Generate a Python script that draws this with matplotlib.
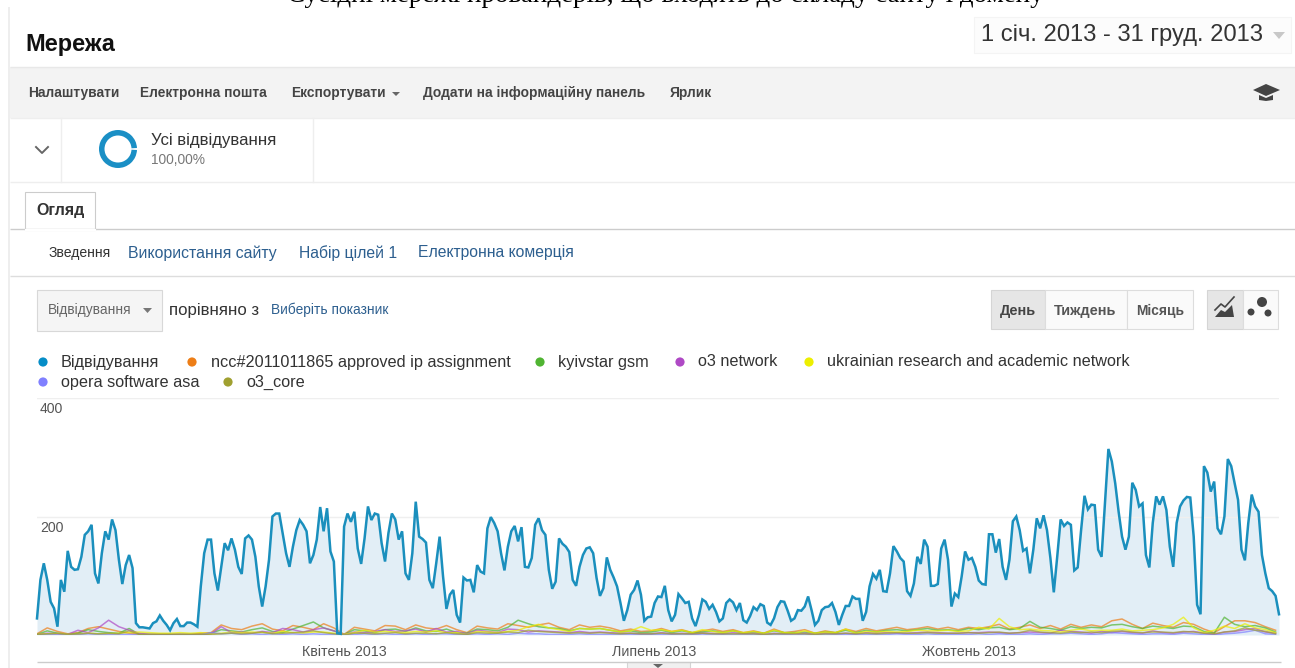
import numpy as np
import matplotlib
matplotlib.use("Agg")
import matplotlib.pyplot as plt
from matplotlib.patches import Rectangle, Circle, Polygon, Wedge

plt.rcParams['font.family'] = ['Liberation Sans', 'DejaVu Sans']

# ---------- data ----------
visits = [
 28,93,121,93,56,45,14,93,73,142,115,110,111,132,169,175,186,104,87,138,175,161,195,177,127,86,118,135,113,20,
 13,13,12,11,20,23,33,24,17,8,20,27,15,15,21,21,18,14,82,138,161,161,104,75,115,155,143,163,144,115,
 103,163,168,161,132,82,48,82,127,200,205,205,172,138,115,149,177,194,186,175,121,135,161,216,175,214,141,124,3,2,
 183,205,191,208,146,120,163,217,194,205,203,155,124,172,205,195,161,175,104,93,138,225,166,162,156,93,79,121,166,99,
 44,68,76,34,21,97,92,93,72,118,107,104,180,199,189,175,138,109,149,175,184,158,182,115,114,130,186,197,177,169,
 110,78,90,163,154,149,140,93,83,115,135,146,148,138,96,66,79,131,110,97,82,54,24,42,68,76,92,68,24,30,
 31,54,65,64,83,42,23,34,69,62,54,56,28,15,34,60,56,44,51,39,23,28,54,60,55,42,54,25,21,32,
 47,42,52,49,21,17,28,47,57,56,41,24,28,42,41,48,65,42,17,24,42,47,48,54,39,17,34,49,49,65,
 61,61,24,39,82,103,95,110,74,73,104,150,141,130,124,74,66,87,132,120,161,149,83,83,86,146,161,127,48,70,
 64,99,141,127,130,115,92,86,85,170,170,139,162,115,93,127,192,200,177,142,146,104,144,197,180,202,177,130,72,132,
 195,184,190,186,109,114,177,235,212,220,219,144,132,222,314,293,256,208,166,144,166,257,245,217,222,135,114,189,234,220,
 234,211,149,115,189,217,227,233,232,166,51,35,285,274,242,259,180,170,200,297,285,256,228,144,126,189,237,217,208,135,
 104,79,74,66,35]

# the smaller series are read every third day
ncc = [2,12,6,2,4,11,14,10,6,3, 1,1,1,1,1,1,3,4,17,11, 9,15,19,10,7,16,13,9,19,12,
 1,13,10,7,16,15,9,17,12,10, 16,9,4,15,12,10,19,16,13,17, 20,13,9,17,13,15,12,7,10,6,
 7,11,6,9,4,7,10,6,9,4, 7,3,10,4,6,9,3,7,4,10, 6,11,7,10,13,9,11,14,10,13,
 9,13,11,14,18,10,13,17,11,16, 10,18,13,17,14,24,27,18,11,20, 16,13,21,18,10,4,14,24,24,21, 14,8]
kyivstar = [1,7,3,1,3,9,6,4,3,11, 1,1,1,1,1,1,1,3,9,7, 5,9,12,6,4,10,16,22,12,7,
 1,9,7,4,9,10,6,12,7,6, 10,4,3,10,9,7,13,25,19,14, 12,11,7,11,10,11,8,5,7,4,
 5,8,4,7,4,5,7,4,7,3, 5,3,7,4,4,5,3,5,4,8, 4,8,5,8,9,7,9,11,8,9,
 7,11,9,12,13,9,11,23,13,11, 8,14,11,13,12,17,18,14,11,15, 13,11,15,14,6,3,30,18,14,16, 12,5]
o3_network = [1,3,2,1,8,4,12,25,14,8, 3,1,1,1,1,1,1,2,14,4, 5,3,6,4,11,9,5,9,12,7,
 1,5,4,6,9,6,7,10,5,11, 5,6,2,8,6,4,10,9,5,7, 6,5,4,6,4,5,4,3,3,2,
 2,4,2,3,2,3,3,2,4,2, 3,1,3,2,2,3,1,3,2,3, 2,4,3,4,3,3,4,5,4,3,
 3,4,4,5,4,3,4,5,4,3, 8,6,5,3,6,4,6,4,3,7, 4,3,5,6,3,1,5,6,9,11, 5,3]
uran = [1,2,2,1,1,3,2,2,3,4, 5,4,3,3,4,3,4,2,3,5, 4,5,4,3,6,4,3,5,5,3,
 1,4,8,5,6,5,4,6,5,7, 4,4,1,6,5,4,6,8,14,18, 12,9,6,11,10,11,8,5,7,14,
 8,9,6,8,4,9,6,4,7,4, 6,3,8,4,3,7,3,5,4,10, 3,6,5,6,5,6,8,7,7,8,
 6,7,13,10,28,14,9,10,8,7, 5,8,10,7,8,8,10,7,8,9, 12,18,30,12,4,8,15,11,19,12, 9,4]
opera = [0,1,1,0,1,2,1,1,1,1, 0,0,0,0,0,0,0,4,2,3, 1,2,1,2,1,2,1,2,1,1,
 0,1,2,1,2,1,1,2,1,2, 2,1,1,2,1,2,1,3,2,2, 1,1,1,2,1,1,1,1,1,1,
 1,1,1,1,1,0,1,1,1,0, 1,0,1,1,0,1,0,1,1,1, 1,1,1,1,2,1,1,2,1,1,
 1,1,2,1,2,1,1,2,1,2, 2,3,2,1,2,4,3,2,1,2, 2,1,3,2,1,0,2,3,5,8, 2,1]
o3_core = [1,2,3,1,2,3,2,3,2,7, 1,1,1,1,1,1,1,1,2,3, 2,3,5,2,3,4,5,7,4,2,
 0,3,3,2,3,4,2,3,3,2, 4,2,1,4,3,3,5,4,8,6, 5,4,3,4,3,4,3,2,3,2,
 2,3,2,2,2,3,2,2,2,2, 2,1,2,2,2,2,1,2,2,3, 2,3,2,3,4,3,3,4,3,3,
 3,4,3,4,5,3,4,8,5,4, 3,5,4,5,4,6,7,5,4,5, 5,4,6,5,3,2,5,7,12,8, 6,2]

series_names = ['ncc#2011011865 approved ip assignment', 'kyivstar gsm', 'o3 network',
                'ukrainian research and academic network', 'opera software asa', 'o3_core']
series_values = [ncc, kyivstar, o3_network, uran, opera, o3_core]
series_colors = ['#ed7e17', '#50b432', '#af49c5', '#edef00', '#8080ff', '#a0a030']
y_ticks = [200, 400]
month_days = [90, 181, 273]
month_labels = ['Квітень 2013', 'Липень 2013', 'Жовтень 2013']

# ---------- figure & page layer in pixel coordinates ----------
W, H = 1295, 668
fig = plt.figure(figsize=(W / 100, H / 100), dpi=100, facecolor='white')
pg = fig.add_axes([0, 0, 1, 1])
pg.set_xlim(0, W); pg.set_ylim(H, 0); pg.axis('off')

def px(s):
    return s * 0.72

def T(x, y, s, size=13, color='#333333', ha='left', weight='normal', family=None):
    kw = {'family': family} if family else {}
    return pg.text(x, y, s, fontsize=px(size), color=color, ha=ha, va='center', weight=weight, **kw)

def R(x0, y0, x1, y1, fc='white', ec='none', lw=0.8, z=1):
    pg.add_patch(Rectangle((x0, y0), x1 - x0, y1 - y0, fc=fc, ec=ec, lw=lw, zorder=z))

def HL(y, x0=10, x1=W, c='#e2e2e2', lw=1):
    pg.plot([x0, x1], [y, y], color=c, lw=lw, solid_capstyle='butt')

# clipped line of document text above the screenshot
pg.text(665, 1.5, 'Сусідні мережі провайдерів, що входять до складу сайту і домену',
        fontsize=px(27), ha='center', va='baseline', family='Liberation Serif', color='black')
pg.plot([9, 9], [8, H], color='#eeeeee', lw=1.4)

# heading
T(25, 45, 'Мережа', size=23.5, color='#111111', weight='bold')
R(974, 17, 1291, 53, fc='#fcfcfc', ec='#f4f4f4')
T(981, 35, '1 січ. 2013 - 31 груд. 2013', size=23.7, color='#333333')
pg.add_patch(Polygon([[1273, 32], [1285, 32], [1279, 39]], fc='#c8c8c8'))

# toolbar
R(10, 67, W, 118, fc='#f3f3f3', ec='none')
HL(67, c='#e8e8e8'); HL(118, c='#eeeeee')
for x, s in [(28, 'Налаштувати'), (140, 'Електронна пошта'), (291, 'Експортувати'),
             (423, 'Додати на інформаційну панель'), (670, 'Ярлик')]:
    T(x, 93, s, size=13.8, color='#444444', weight='bold')
pg.add_patch(Polygon([[392, 92], [400, 92], [396, 96]], fc='#666666'))
pg.add_patch(Polygon([[1253, 90], [1266, 84], [1280, 90], [1266, 96]], fc='#444444'))
pg.add_patch(Polygon([[1259, 95], [1266, 98], [1273, 95], [1273, 100], [1266, 101], [1259, 100]], fc='#444444'))

# segment row
for x in (61, 313):
    pg.plot([x, x], [118, 182], color='#eeeeee', lw=1)
HL(182, c='#eeeeee')
pg.plot([36, 42, 48], [147, 153, 147], color='#666666', lw=1.4)
pg.add_patch(Wedge((118, 149), 19, 3, 357, width=5.5, fc='#1a8fc5', ec='none'))
T(151, 141, 'Усі відвідування', size=16.8, color='#333333')
T(151, 160, '100,00%', size=13.8, color='#777777')

# tabs
HL(229, c='#cccccc')
R(25, 192, 95, 230, fc='white', ec='#cccccc')
pg.plot([25.5, 94.5], [229.5, 229.5], color='white', lw=1.5)
T(60.5, 210, 'Огляд', size=16, color='#333333', ha='center', weight='bold')
T(49, 253, 'Зведення', size=14, color='#333333')
T(128, 253, 'Використання сайту', size=15.9, color='#2d5f8f')
T(299, 253, 'Набір цілей 1', size=15.8, color='#2d5f8f')
T(418, 253, 'Електронна комерція', size=15.8, color='#2d5f8f')
HL(276, c='#dddddd')

# metric picker
R(37, 290, 162, 331, fc='#f5f5f5', ec='#d8d8d8')
T(48, 310, 'Відвідування', size=13.8, color='#666666')
pg.add_patch(Polygon([[143, 308], [152, 308], [147.5, 313]], fc='#777777'))
T(169, 310, 'порівняно з', size=16.8, color='#333333')
T(271, 310, 'Виберіть показник', size=13.7, color='#2d5f8f')

# period buttons
R(991, 290, 1045, 329, fc='#e6e6e6', ec='#d5d5d5')
R(1045, 290, 1127, 329, fc='#fafafa', ec='#dddddd')
R(1127, 290, 1193, 329, fc='#fafafa', ec='#dddddd')
T(1018, 311, 'День', size=14.5, color='#444444', ha='center', weight='bold')
T(1085, 311, 'Тиждень', size=14.5, color='#555555', ha='center', weight='bold')
T(1160, 311, 'Місяць', size=13.8, color='#555555', ha='center', weight='bold')
R(1207, 290, 1243, 329, fc='#e6e6e6', ec='#d5d5d5')
R(1243, 290, 1278, 329, fc='#fafafa', ec='#dddddd')
pg.add_patch(Polygon([[1215, 317], [1221, 310], [1225, 312], [1232, 305], [1234, 317]], fc='#444444'))
pg.plot([1215, 1221, 1225, 1234], [310, 304, 307, 297], color='#444444', lw=1.2)
pg.add_patch(Circle((1262, 302), 5, fc='#444444'))
pg.add_patch(Circle((1251, 312), 3.5, fc='#444444'))
pg.add_patch(Circle((1268, 313), 3.5, fc='#444444'))

# legend rows
legend = [(43, 362, 61, 'Відвідування', '#058dc7'),
          (192, 362, 211, series_names[0], series_colors[0]),
          (540, 362, 558, series_names[1], series_colors[1]),
          (680, 362, 698, series_names[2], series_colors[2]),
          (809, 362, 827, series_names[3], series_colors[3]),
          (43, 382, 61, series_names[4], series_colors[4]),
          (228, 382, 246, series_names[5], series_colors[5])]
for dx, y, tx, s, c in legend:
    pg.add_patch(Circle((dx, y), 4.6, fc=c, ec='none'))
    T(tx, y, s, size=16.2, color='#333333')

# bottom rule and handle
HL(662, x0=37, x1=1281, c='#cccccc')
R(627, 662, 690, 669, fc='#f0f0f0', ec='#d5d5d5')
pg.add_patch(Polygon([[653, 664], [663, 664], [658, 668]], fc='#666666'))

# ---------- chart ----------
ax = fig.add_axes([37 / W, 1 - 635 / H, (1279 - 37) / W, (635 - 398) / H], facecolor='none')
days = np.arange(len(visits))
ax.fill_between(days, visits, 0, color='#e2eef6', lw=0, zorder=1)
for vals, c in zip(series_values, series_colors):
    ax.plot(np.arange(len(vals)) * 3, vals, color=c, lw=1.1, alpha=0.7, zorder=2)
ax.plot(days, visits, color='#1a8fbd', lw=1.8, zorder=3, solid_joinstyle='miter', clip_on=False)
ax.set_xlim(0, 364)
ax.set_ylim(0, 400)
for s in ax.spines.values():
    s.set_visible(False)
ax.set_yticks(y_ticks)
ax.set_yticklabels([])
ax.tick_params(axis='y', length=0)
ax.grid(axis='y', color='#efefef', lw=1, zorder=0)
ax.set_xticks(month_days)
ax.set_xticklabels(month_labels, fontsize=px(14.2), color='#555555')
ax.tick_params(axis='x', length=0, pad=7)
for v in y_ticks:
    ax.annotate(str(v), (0, v), xytext=(3, -11), textcoords='offset pixels', fontsize=px(14),
                color='#555555', va='center', ha='left')

fig.savefig('out.png', dpi=100)
